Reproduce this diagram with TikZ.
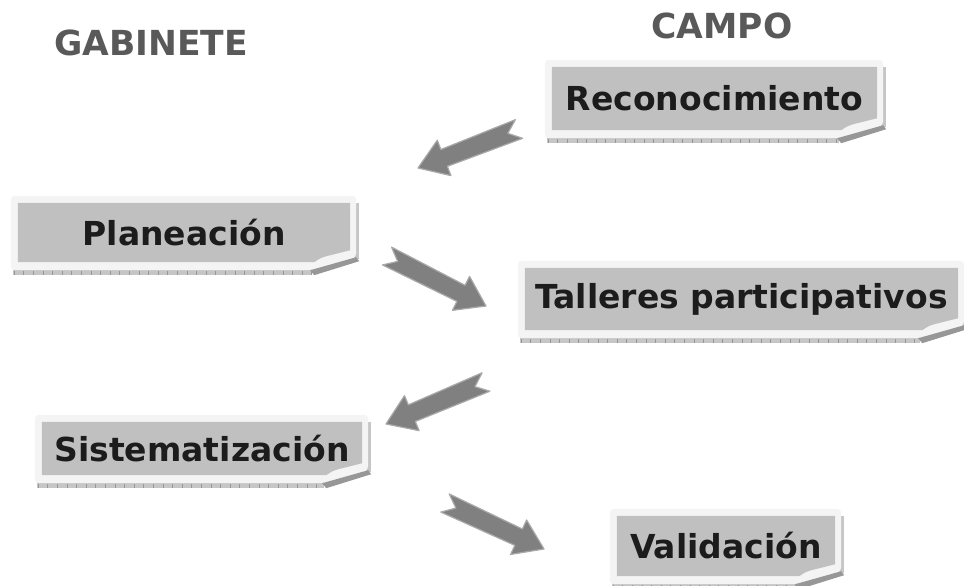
\documentclass[tikz,border=0pt]{standalone}
\usepackage{fontspec}
\setmainfont{DejaVu Sans}
\usetikzlibrary{calc,backgrounds}

\definecolor{cajagris}{HTML}{C0C0C0}
\definecolor{marcoclaro}{HTML}{F4F4F4}
\definecolor{sombragris}{HTML}{C6C6C6}
\definecolor{rayagris}{HTML}{979797}
\definecolor{textooscuro}{HTML}{1C1C1C}
\definecolor{titulogris}{HTML}{595959}
\definecolor{flechagris}{HTML}{808080}
\definecolor{bordeflecha}{HTML}{A9A9A9}

% caja con marco, sombra y esquina doblada
\newcommand{\caja}[1]{%
  \begin{scope}[on background layer]
    \fill[sombragris] ([shift={(-5,6)}]#1.south west) rectangle ([shift={(-38,13)}]#1.south east);
    \fill[sombragris] ([shift={(4,0)}]#1.north east) rectangle ([shift={(9,-3)}]#1.south east);
    \draw[rayagris, line width=4pt, dash pattern=on 0.6pt off 9pt] ([shift={(-4,10.5)}]#1.south west) -- ([shift={(-38,10.5)}]#1.south east);
    \fill[marcoclaro, rounded corners=4pt] ([shift={(-7,-7)}]#1.north west) -- ([shift={(6,-7)}]#1.north east)
      -- ([shift={(6,-5)}]#1.south east) -- ([shift={(-40,8)}]#1.south east) -- ([shift={(-7,8)}]#1.south west) -- cycle;
    \fill[rayagris] ([shift={(-40,8)}]#1.south east) -- ([shift={(6,-5)}]#1.south east)
      -- ([shift={(9,-1)}]#1.south east) -- ([shift={(-36,13)}]#1.south east) -- cycle;
    \fill[cajagris] (#1.north west) -- (#1.north east) -- ([shift={(0,-12)}]#1.south east)
      -- ([shift={(-24,-6)}]#1.south east) .. controls ([shift={(-30,-4)}]#1.south east) .. ([shift={(-36,0)}]#1.south east)
      -- (#1.south west) -- cycle;
  \end{scope}}

% flecha gruesa con cola en V, de #1 (cola) a #2 (punta)
\newcommand{\flecha}[2]{%
  \coordinate (hb) at ($(#2)!28pt!(#1)$);
  \filldraw[fill=flechagris, draw=bordeflecha, line width=1.2pt, line join=round]
    ($(#1)!10pt!90:(#2)$) -- ($(hb)!9pt!90:(#2)$) -- ($(hb)!19pt!90:(#2)$) -- (#2)
    -- ($(hb)!19pt!-90:(#2)$) -- ($(hb)!9pt!-90:(#2)$) -- ($(#1)!10pt!-90:(#2)$)
    -- ($(#1)!12pt!(#2)$) -- cycle;}

\begin{document}
\begin{tikzpicture}[x=1pt, y=-1pt,
    paso/.style={rectangle, inner sep=0pt, text=textooscuro, font=\fontsize{33}{36}\selectfont\bfseries},
    titulo/.style={text=titulogris, font=\fontsize{34.5}{38}\selectfont\bfseries}]

    \useasboundingbox (0,0) rectangle (964,586);

    \node[titulo] (gab) at (151,43) {GABINETE};
    \node[titulo] (campo) at (722,26) {CAMPO};

    \node[paso, minimum width=325pt, minimum height=63pt] (reco) at (714.5,98.5) {Reconocimiento};
    \node[paso, minimum width=332pt, minimum height=59pt] (plan) at (184,232.5) {Planeación};
    \node[paso, minimum width=433pt, minimum height=62pt] (tall) at (741.5,299) {Talleres participativos};
    \node[paso, minimum width=320pt, minimum height=53pt] (sist) at (202,448.5) {Sistematización};
    \node[paso, minimum width=218pt, minimum height=60pt] (vali) at (726,546) {Validación};

    \foreach \n in {reco,plan,tall,sist,vali}
        \caja{\n};

    \coordinate (f1a) at (519,129);  \coordinate (f1b) at (418,168);
    \coordinate (f2a) at (387,256);  \coordinate (f2b) at (486,306);
    \coordinate (f3a) at (486,382);  \coordinate (f3b) at (386,424);
    \coordinate (f4a) at (445,503);  \coordinate (f4b) at (544,549);

    \flecha{f1a}{f1b}
    \flecha{f2a}{f2b}
    \flecha{f3a}{f3b}
    \flecha{f4a}{f4b}
\end{tikzpicture}
\end{document}
